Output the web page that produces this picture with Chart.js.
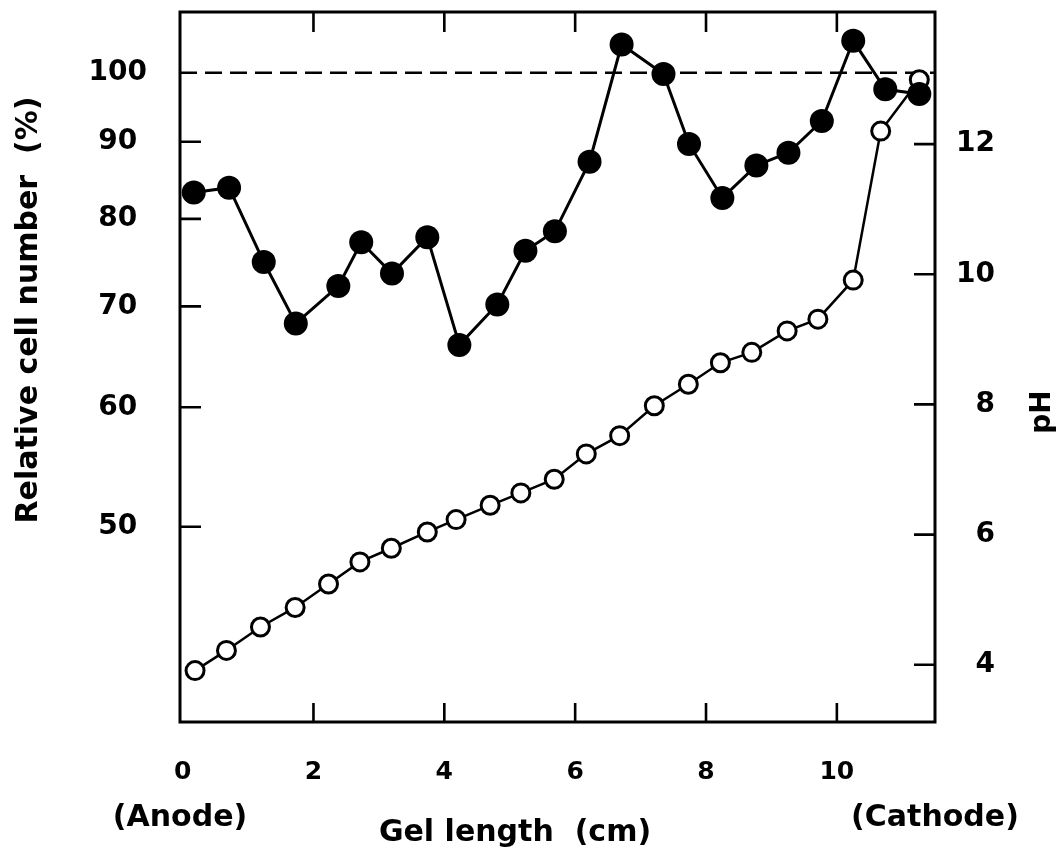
<!DOCTYPE html>
<html>
<head>
<meta charset="utf-8">
<script src="https://cdn.jsdelivr.net/npm/chart.js@4/dist/chart.umd.min.js"></script>
<style>
html,body{margin:0;padding:0;background:#fff;}
#wrap{width:1061px;height:856px;position:relative;}
</style>
</head>
<body>
<div id="wrap"><canvas id="c" width="1061" height="856"></canvas></div>
<script>
// ---- data ----
const cellX = [0.17, 0.71, 1.24, 1.73, 2.38, 2.73, 3.20, 3.74, 4.23, 4.81, 5.24, 5.69, 6.22, 6.71, 7.35, 7.74, 8.25, 8.77, 9.26, 9.77, 10.25, 10.74, 11.26];
const cellValues = [83.3, 83.9, 74.9, 68.2, 72.2, 77.2, 73.6, 77.8, 66.0, 70.2, 76.2, 78.5, 87.3, 104.4, 99.8, 89.7, 82.6, 86.8, 88.5, 92.9, 105.0, 97.5, 96.8];
const phX = [0.19, 0.67, 1.19, 1.72, 2.23, 2.71, 3.19, 3.74, 4.18, 4.70, 5.17, 5.68, 6.17, 6.68, 7.21, 7.73, 8.22, 8.70, 9.24, 9.71, 10.25, 10.67, 11.26];
const phValues = [3.91, 4.22, 4.58, 4.88, 5.24, 5.58, 5.79, 6.04, 6.23, 6.45, 6.64, 6.85, 7.24, 7.52, 7.98, 8.31, 8.64, 8.80, 9.13, 9.31, 9.91, 12.20, 12.99];
const xTicks = [0, 2, 4, 6, 8, 10];
const cellTicks = [50, 60, 70, 80, 90, 100];
const phTicks = [4, 6, 8, 10, 12];
const referenceLevel = 100;
const xRange = [-0.04, 11.5];
const cellRange = [37.11, 109.72];
const phRange = [3.12, 14.03];

// ---- text ----
const yTitle = 'Relative cell number  (%)';
const y2Title = 'pH';
const xTitle = 'Gel length  (cm)';
const anodeLabel = '(Anode)';
const cathodeLabel = '(Cathode)';

const FONT = '"DejaVu Sans", sans-serif';

const toPoints = (xs, ys) => xs.map((x, i) => ({x: x, y: ys[i]}));

const frameAndText = {
  id: 'frameAndText',
  afterLayout(chart) {
    // right-hand pH labels are right-aligned a little way from the axis
    const s = chart.scales.y2;
    s.right = chart.chartArea.right + 60;
  },
  afterDatasetsDraw(chart) {
    const {ctx, chartArea: a, scales} = chart;
    ctx.save();
    ctx.strokeStyle = '#000';
    ctx.lineWidth = 3;
    ctx.strokeRect(a.left, a.top, a.right - a.left, a.bottom - a.top);
    ctx.lineWidth = 2.6;
    ctx.beginPath();
    xTicks.forEach(v => {
      if (v === 0) return;
      const px = scales.x.getPixelForValue(v);
      ctx.moveTo(px, a.bottom); ctx.lineTo(px, a.bottom - 19);
      ctx.moveTo(px, a.top); ctx.lineTo(px, a.top + 20);
    });
    cellTicks.forEach(v => {
      if (v === referenceLevel) return;
      const py = scales.y.getPixelForValue(v);
      ctx.moveTo(a.left, py); ctx.lineTo(a.left + 21, py);
    });
    phTicks.forEach(v => {
      const py = scales.y2.getPixelForValue(v);
      ctx.moveTo(a.right, py); ctx.lineTo(a.right - 21, py);
    });
    ctx.stroke();
    ctx.restore();
  },
  afterDraw(chart) {
    const {ctx, chartArea: a} = chart;
    ctx.save();
    ctx.fillStyle = '#000';
    ctx.textAlign = 'center';
    ctx.textBaseline = 'middle';
    ctx.font = 'bold 30px ' + FONT;
    ctx.save();
    ctx.translate(29, 310);
    ctx.rotate(-Math.PI / 2);
    ctx.fillText(yTitle, 0, 0);
    ctx.restore();
    ctx.font = 'bold 28px ' + FONT;
    ctx.save();
    ctx.translate(1043, 412);
    ctx.rotate(-Math.PI / 2);
    ctx.fillText(y2Title, 0, 0);
    ctx.restore();
    ctx.font = 'bold 30px ' + FONT;
    ctx.fillText(anodeLabel, a.left, 818);
    ctx.fillText(cathodeLabel, a.right, 818);
    ctx.fillText(xTitle, 515, 833);
    ctx.restore();
  }
};

new Chart(document.getElementById('c'), {
  type: 'line',
  data: {
    datasets: [
      {
        label: 'Relative cell number',
        data: toPoints(cellX, cellValues),
        yAxisID: 'y',
        borderColor: '#000',
        borderWidth: 3,
        pointRadius: 12,
        pointBackgroundColor: '#000',
        pointBorderColor: '#000',
        pointBorderWidth: 0,
        tension: 0,
        order: 0
      },
      {
        label: 'pH',
        data: toPoints(phX, phValues),
        yAxisID: 'y2',
        borderColor: '#000',
        borderWidth: 2.5,
        pointRadius: 9,
        pointBackgroundColor: '#fff',
        pointBorderColor: '#000',
        pointBorderWidth: 3,
        tension: 0,
        order: 1
      },
      {
        label: '100%',
        data: [{x: xRange[0], y: referenceLevel}, {x: xRange[1], y: referenceLevel}],
        yAxisID: 'y',
        borderColor: '#000',
        borderWidth: 2.6,
        borderDash: [17, 8],
        pointRadius: 0,
        order: 2
      }
    ]
  },
  options: {
    responsive: false,
    animation: false,
    devicePixelRatio: 1,
    layout: {padding: {top: 11, left: 0, right: 0, bottom: 0}},
    plugins: {legend: {display: false}, tooltip: {enabled: false}},
    scales: {
      x: {
        type: 'linear',
        position: 'bottom',
        min: xRange[0],
        max: xRange[1],
        grid: {display: false, drawTicks: false},
        border: {display: false},
        afterBuildTicks: s => { s.ticks = xTicks.map(v => ({value: v})); },
        afterFit: s => { s.height = 134; s.paddingLeft = 0; s.paddingRight = 0; },
        ticks: {
          padding: 35,
          color: '#000',
          font: {family: FONT, size: 25, weight: 'bold'},
          callback: v => String(v),
          maxRotation: 0
        }
      },
      y: {
        type: 'logarithmic',
        position: 'left',
        min: cellRange[0],
        max: cellRange[1],
        grid: {display: false, drawTicks: false},
        border: {display: false},
        afterBuildTicks: s => { s.ticks = cellTicks.map(v => ({value: v})); },
        afterFit: s => { s.width = 180; s.paddingTop = 0; s.paddingBottom = 0; },
        ticks: {
          crossAlign: 'center',
          padding: 33,
          color: '#000',
          font: {family: FONT, size: 28, weight: 'bold'},
          callback: v => String(v)
        }
      },
      y2: {
        type: 'linear',
        position: 'right',
        min: phRange[0],
        max: phRange[1],
        grid: {display: false, drawTicks: false},
        border: {display: false},
        afterBuildTicks: s => { s.ticks = phTicks.map(v => ({value: v})); },
        afterFit: s => { s.width = 126; s.paddingTop = 0; s.paddingBottom = 0; },
        ticks: {
          crossAlign: 'far',
          padding: 21,
          color: '#000',
          font: {family: FONT, size: 28, weight: 'bold'},
          callback: v => String(v)
        }
      }
    }
  },
  plugins: [frameAndText]
});
</script>
</body>
</html>
